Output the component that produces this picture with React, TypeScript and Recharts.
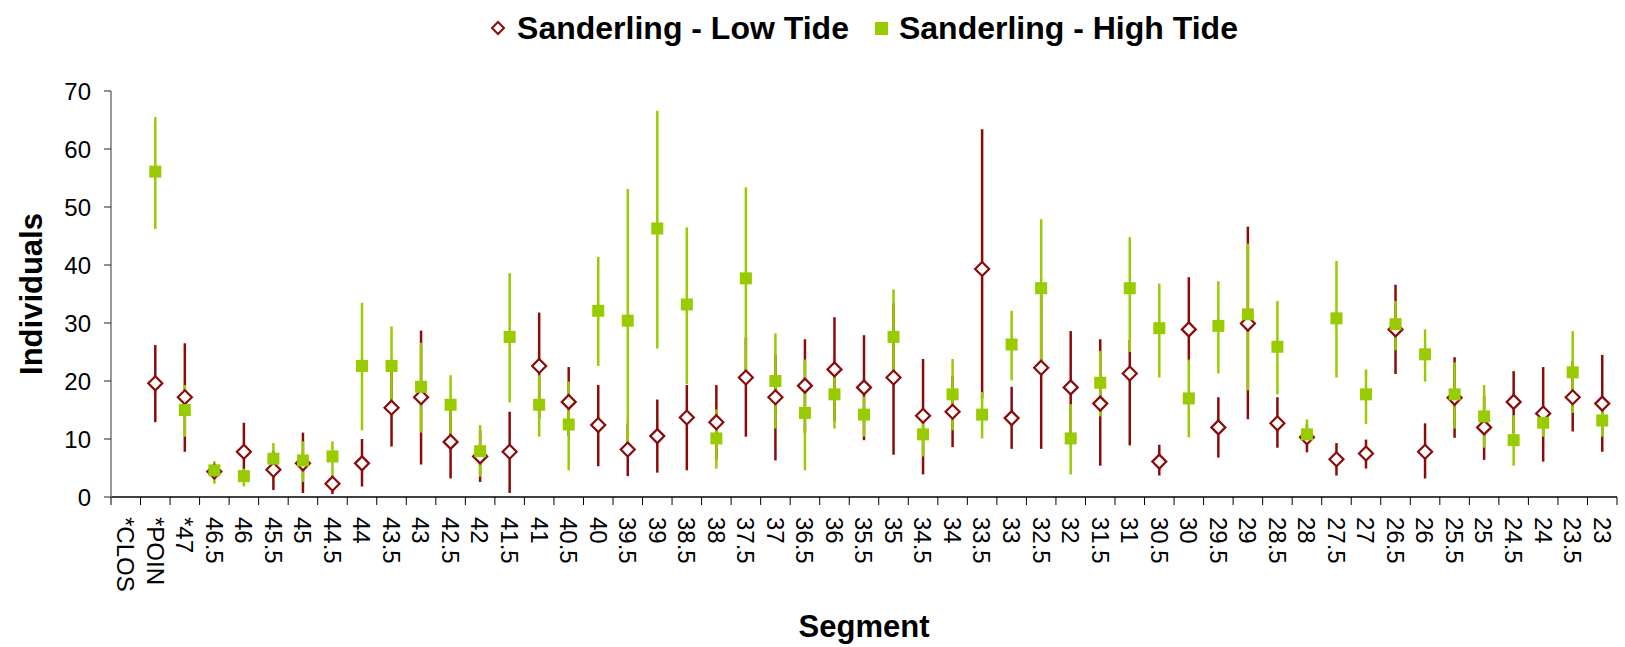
import { ComposedChart, Scatter, ErrorBar, XAxis, YAxis } from "recharts";

const segments = [
  "*CLOS", "*POIN", "*47", "46.5", "46", "45.5", "45", "44.5", "44", "43.5",
  "43", "42.5", "42", "41.5", "41", "40.5", "40", "39.5", "39", "38.5",
  "38", "37.5", "37", "36.5", "36", "35.5", "35", "34.5", "34", "33.5",
  "33", "32.5", "32", "31.5", "31", "30.5", "30", "29.5", "29", "28.5",
  "28", "27.5", "27", "26.5", "26", "25.5", "25", "24.5", "24", "23.5", "23",
];

// Sanderling - Low Tide: mean and interval ends
const lowMean = [
  null, 19.6, 17.2, 4.4, 7.8, 4.7, 5.8, 2.3, 5.8, 15.4,
  17.2, 9.5, 7.0, 7.8, 22.6, 16.4, 12.4, 8.2, 10.5, 13.7,
  12.9, 20.6, 17.2, 19.2, 22.0, 18.9, 20.6, 14.0, 14.7, 39.3,
  13.6, 22.3, 18.9, 16.1, 21.3, 6.1, 28.9, 12.0, 29.9, 12.7,
  10.3, 6.5, 7.5, 28.9, 7.8, 17.1, 12.0, 16.4, 14.4, 17.2, 16.1,
];
const lowMin = [
  null, 12.9, 7.8, 3.6, 4.5, 1.2, 0.7, 0.5, 1.8, 8.7,
  5.6, 3.2, 2.6, 0.7, 13.5, 10.5, 5.3, 3.6, 4.2, 4.6,
  6.5, 10.4, 6.3, 11.0, 13.0, 9.8, 7.3, 3.9, 8.6, 17.0,
  8.3, 8.3, 9.0, 5.4, 8.9, 3.7, 23.5, 6.8, 13.4, 8.5,
  7.7, 3.7, 4.9, 21.2, 3.2, 10.2, 6.4, 11.0, 6.1, 11.3, 7.8,
];
const lowMax = [
  null, 26.2, 26.5, 5.2, 12.8, 8.0, 11.1, 3.7, 10.0, 21.8,
  28.7, 15.5, 11.5, 14.7, 31.8, 22.4, 19.3, 12.7, 16.8, 19.3,
  19.3, 27.5, 24.5, 27.2, 31.0, 27.9, 33.4, 23.8, 20.8, 63.4,
  19.0, 36.0, 28.6, 27.2, 27.1, 9.0, 37.9, 17.2, 46.6, 17.2,
  12.5, 9.3, 9.9, 36.6, 12.7, 24.1, 17.5, 21.7, 22.4, 23.4, 24.5,
];

// Sanderling - High Tide
const highMean = [
  null, 56.1, 15.0, 4.6, 3.6, 6.6, 6.3, 7.0, 22.6, 22.6,
  19.0, 15.9, 7.9, 27.6, 15.9, 12.5, 32.1, 30.4, 46.3, 33.2,
  10.1, 37.7, 20.0, 14.5, 17.7, 14.2, 27.6, 10.8, 17.7, 14.2,
  26.3, 36.0, 10.1, 19.7, 36.0, 29.1, 17.0, 29.5, 31.5, 25.9,
  10.8, 30.8, 17.7, 29.8, 24.6, 17.7, 13.9, 9.8, 12.8, 21.5, 13.2,
];
const highMin = [
  null, 46.2, 10.4, 2.3, 1.8, 4.0, 2.6, 3.7, 11.5, 15.8,
  11.1, 9.8, 3.5, 16.3, 10.4, 4.6, 22.6, 8.0, 25.6, 19.5,
  4.9, 21.0, 11.8, 4.6, 11.8, 10.4, 20.0, 7.0, 11.5, 10.1,
  20.1, 23.0, 3.9, 13.9, 25.0, 20.6, 10.3, 21.3, 18.4, 17.7,
  9.3, 20.6, 12.6, 25.3, 19.9, 11.8, 8.5, 5.4, 10.4, 14.5, 10.4,
];
const highMax = [
  null, 65.5, 19.3, 6.2, 4.9, 9.3, 9.6, 9.6, 33.5, 29.4,
  26.6, 21.0, 12.4, 38.6, 21.0, 19.9, 41.4, 53.1, 66.6, 46.5,
  15.1, 53.4, 28.2, 23.7, 21.0, 17.3, 35.8, 14.0, 23.8, 18.1,
  32.1, 47.9, 16.0, 25.2, 44.8, 36.8, 23.7, 37.2, 43.7, 33.8,
  13.4, 40.7, 22.0, 33.8, 28.9, 23.2, 19.3, 14.1, 15.0, 28.6, 16.0,
];

const yTicks = [0, 10, 20, 30, 40, 50, 60, 70];

const RED = "#8b0a0a";
const GREEN = "#99cc00";
const WIDTH = 1625;
const HEIGHT = 647;
const Y_AXIS_W = 111;
const X_AXIS_H = 150;
const RIGHT = 8;
const PLOT_BOTTOM = HEIGHT - X_AXIS_H;
const BAND = (WIDTH - Y_AXIS_W - RIGHT) / segments.length;

const err = (m: number | null, lo: number | null, hi: number | null) =>
  m == null || lo == null || hi == null ? null : [m - lo, hi - m];

const data = segments.map((seg, i) => ({
  seg,
  low: lowMean[i],
  lowErr: err(lowMean[i], lowMin[i], lowMax[i]),
  high: highMean[i],
  highErr: err(highMean[i], highMin[i], highMax[i]),
}));

function Diamond(props: any) {
  const { cx, cy, payload } = props;
  if (payload?.low == null) return <g />;
  const r = 7;
  return (
    <polygon
      points={`${cx},${cy - r} ${cx + r},${cy} ${cx},${cy + r} ${cx - r},${cy}`}
      fill="#fff"
      stroke={RED}
      strokeWidth={2.2}
    />
  );
}

function Square(props: any) {
  const { cx, cy, payload } = props;
  if (payload?.high == null) return <g />;
  const s = 12;
  return <rect x={cx - s / 2} y={cy - s / 2} width={s} height={s} fill={GREEN} />;
}

function SegmentTick(props: any) {
  const { x, payload, index } = props;
  const half = BAND / 2;
  const last = index === segments.length - 1;
  return (
    <g>
      <line x1={x - half} x2={x - half} y1={PLOT_BOTTOM} y2={PLOT_BOTTOM + 8} stroke="#000" />
      {last && (
        <line x1={x + half} x2={x + half} y1={PLOT_BOTTOM} y2={PLOT_BOTTOM + 8} stroke="#000" />
      )}
      <text
        transform={`translate(${x},${PLOT_BOTTOM + 20}) rotate(90)`}
        dy="0.36em"
        textAnchor="start"
        fontSize={24}
        fill="#000"
      >
        {payload.value}
      </text>
    </g>
  );
}

function LegendRow() {
  return (
    <div
      style={{
        position: "absolute",
        top: 9,
        left: Y_AXIS_W,
        width: WIDTH - Y_AXIS_W - RIGHT,
        height: 38,
        display: "flex",
        justifyContent: "center",
        alignItems: "center",
        fontSize: 32,
        fontWeight: "bold",
        color: "#000",
      }}
    >
      <svg width={16} height={16} style={{ marginRight: 11 }}>
        <polygon points="8,2 14,8 8,14 2,8" fill="#fff" stroke={RED} strokeWidth={2} />
      </svg>
      <span style={{ marginRight: 26 }}>Sanderling - Low Tide</span>
      <svg width={13} height={13} style={{ marginRight: 11 }}>
        <rect x={0} y={0} width={13} height={13} fill={GREEN} />
      </svg>
      <span>Sanderling - High Tide</span>
    </div>
  );
}

export default function App() {
  return (
    <div
      style={{
        position: "absolute",
        left: 0,
        top: 0,
        width: WIDTH,
        height: HEIGHT,
        background: "#fff",
        fontFamily: "'Liberation Sans', Arial, sans-serif",
      }}
    >
      <LegendRow />
      <ComposedChart
        width={WIDTH}
        height={HEIGHT}
        data={data}
        margin={{ top: 91, right: RIGHT, left: 0, bottom: 0 }}
      >
        <XAxis
          dataKey="seg"
          type="category"
          interval={0}
          height={X_AXIS_H}
          padding={{ left: BAND / 2, right: BAND / 2 }}
          axisLine={{ stroke: "#000", strokeWidth: 1.5 }}
          tickLine={false}
          tick={<SegmentTick />}
          label={{
            value: "Segment",
            position: "insideBottom",
            offset: 10,
            style: { fontSize: 31, fontWeight: "bold", fill: "#000" },
          }}
        />
        <YAxis
          type="number"
          domain={[0, 70]}
          ticks={yTicks}
          interval={0}
          width={Y_AXIS_W}
          axisLine={{ stroke: "#777", strokeWidth: 1.5 }}
          tickLine={{ stroke: "#222" }}
          tickSize={7}
          tickMargin={13}
          tick={{ fontSize: 24, fill: "#000" }}
          label={{
            value: "Individuals",
            angle: -90,
            position: "insideLeft",
            offset: 31,
            style: { textAnchor: "middle", fontSize: 31, fontWeight: "bold", fill: "#000" },
          }}
        />
        <Scatter dataKey="low" name="Sanderling - Low Tide" shape={<Diamond />} isAnimationActive={false}>
          <ErrorBar dataKey="lowErr" direction="y" width={0} stroke={RED} strokeWidth={2.5} isAnimationActive={false} />
        </Scatter>
        <Scatter dataKey="high" name="Sanderling - High Tide" shape={<Square />} isAnimationActive={false}>
          <ErrorBar dataKey="highErr" direction="y" width={0} stroke={GREEN} strokeWidth={2.5} isAnimationActive={false} />
        </Scatter>
      </ComposedChart>
    </div>
  );
}
